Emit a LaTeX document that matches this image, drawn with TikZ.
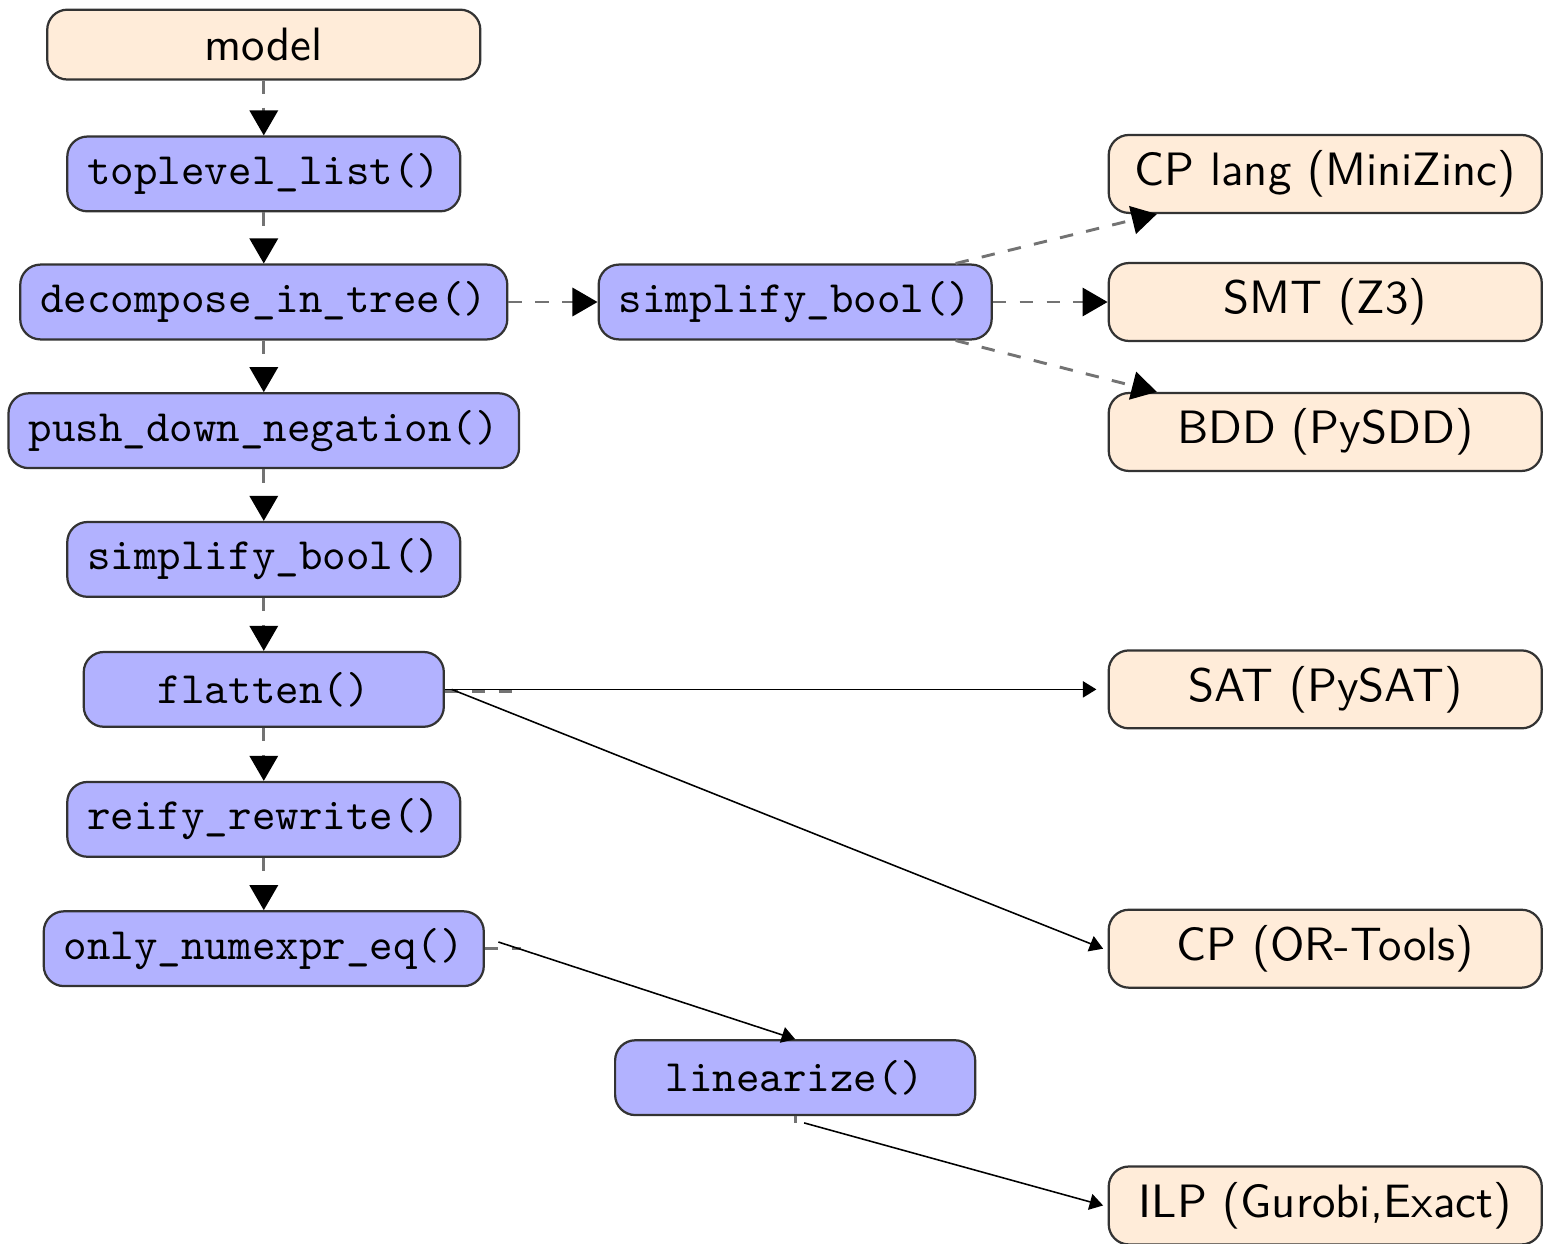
\documentclass[tikz,border=0pt]{standalone}
\usepackage{tikz}
\usetikzlibrary{arrows.meta}

\begin{document}
\begin{tikzpicture}[
    pass/.style={draw=black!80, line width=0.5pt, fill=blue!30, rounded corners=4.5pt, font=\ttfamily, minimum width=80.4pt, minimum height=16.7pt, inner xsep=4.5pt},
    target/.style={draw=black!80, line width=0.5pt, fill=orange!15, rounded corners=4.5pt, font=\fontsize{10.45}{12}\sffamily\selectfont, minimum width=96.7pt, minimum height=17.4pt},
    flow/.style={dashed, black!55, line width=0.65pt, -{Triangle[length=5.6pt,width=6.3pt,black]}},
    stub/.style={dashed, black!55, line width=0.65pt},
    solve/.style={black, line width=0.35pt, -{Triangle[length=3pt,width=3.6pt]}}
]
    \useasboundingbox (0,0) rectangle (12.14,-9.76);
    % left column
    \node[target, minimum height=15.6pt] (model) at (2.07,-0.35) {model};
    \node[pass] (top) at (2.07,-1.365) {toplevel\_list()};
    \node[pass] (dec) at (2.07,-2.37) {decompose\_in\_tree()};
    \node[pass] (neg) at (2.07,-3.38) {push\_down\_negation()};
    \node[pass] (simp) at (2.07,-4.39) {simplify\_bool()};
    \node[pass] (flat) at (2.07,-5.41) {flatten()};
    \node[pass] (reif) at (2.07,-6.43) {reify\_rewrite()};
    \node[pass] (only) at (2.07,-7.445) {only\_numexpr\_eq()};
    % middle
    \node[pass] (simp2) at (6.24,-2.37) {simplify\_bool()};
    \node[pass] (lin) at (6.24,-8.457) {linearize()};
    % solvers
    \node[target] (cplang) at (10.40,-1.365) {CP lang (MiniZinc)};
    \node[target] (smt) at (10.40,-2.37) {SMT (Z3)};
    \node[target] (bdd) at (10.40,-3.39) {BDD (PySDD)};
    \node[target] (sat) at (10.40,-5.41) {SAT (PySAT)};
    \node[target] (cp) at (10.40,-7.445) {CP (OR-Tools)};
    \node[target] (ilp) at (10.40,-9.46) {ILP (Gurobi,Exact)};

    \draw[flow] (model) -- (top);
    \draw[flow] (top) -- (dec);
    \draw[flow] (dec) -- (neg);
    \draw[flow] (neg) -- (simp);
    \draw[flow] (simp) -- (flat);
    \draw[flow] (flat) -- (reif);
    \draw[flow] (reif) -- (only);
    \draw[flow] (dec) -- (simp2);
    \draw[flow] ([xshift=-8.3pt]simp2.north east) -- ([xshift=11pt]cplang.south west);
    \draw[flow] (simp2) -- (smt);
    \draw[flow] ([xshift=-8.3pt]simp2.south east) -- ([xshift=11pt]bdd.north west);

    \draw[stub] ([yshift=-0.5pt]flat.east) -- +(17pt,0);
    \draw[stub] (only.east) -- +(8pt,0);
    \draw[stub] (lin.south) -- +(0,-1.5pt);
    \draw[solve] (flat.east) -- ([xshift=-2.5pt]sat.west);
    \draw[solve] ([xshift=1.5pt]flat.east) -- ([xshift=-1pt]cp.west);
    \draw[solve] ([xshift=3pt,yshift=1.5pt]only.east) -- (lin.north);
    \draw[solve] ([xshift=2pt,yshift=-1.5pt]lin.south) -- ([xshift=-1pt]ilp.west);
\end{tikzpicture}
\end{document}
